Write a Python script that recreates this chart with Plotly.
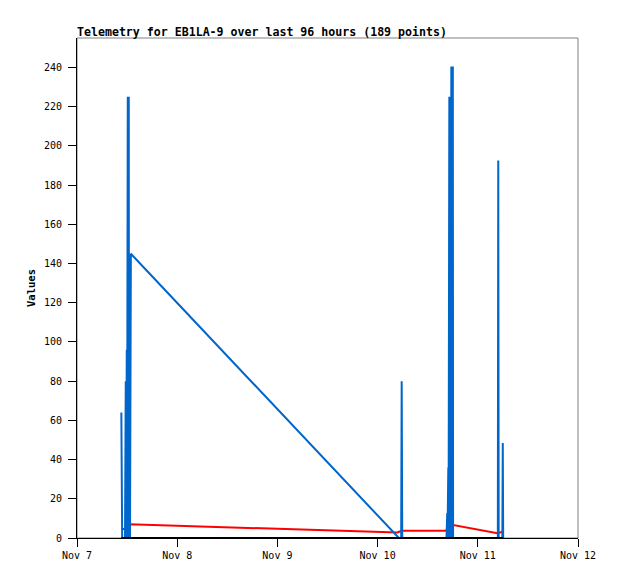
import pandas as pd
import plotly.graph_objects as go

# --------------------------------------------------
# DATA (hours after Nov 7 00:00)
# --------------------------------------------------

start = pd.Timestamp("2024-11-07 00:00")

blue_hours = [
    10.62, 10.72, 10.82,
    11.50, 11.56, 11.62, 11.68, 11.74, 11.80, 11.86, 11.92, 11.98,
    12.04, 12.10, 12.16, 12.22, 12.28, 12.34, 12.40, 12.46,
    12.52, 12.58, 12.64, 12.70, 12.76, 12.82, 12.90,
    77.10, 77.65, 77.77, 77.90,
    88.50, 88.56, 88.62, 88.68, 88.74, 88.82, 88.88, 88.94, 89.00,
    89.06, 89.12, 89.18, 89.24, 89.30, 89.36, 89.42, 89.48, 89.54, 89.60,
    89.66, 89.72, 89.78, 89.84, 89.90, 89.96, 90.02, 90.08,
    100.80, 100.90, 101.00, 101.88, 101.98, 102.08
]
blue_values = [
    64, 32, 0,
    0, 80, 0, 80, 0, 96, 0, 96, 0,
    225, 0, 225, 0, 225, 0, 225, 0,
    145, 0, 145, 0, 145, 0, 145,
    0, 0, 80, 0,
    0, 12.7, 0, 12.7, 0, 36, 0, 36, 0,
    225, 0, 225, 0, 225, 0, 225, 0, 225, 0,
    240.5, 0, 240.5, 0, 240.5, 0, 240.5, 0,
    0, 192.5, 0, 0, 48.5, 0
]

red_hours = [10.62, 11.60, 12.53, 76.80, 77.70, 88.40, 89.20, 100.70, 101.95]
red_values = [4.6, 4.6, 7.0, 2.8, 3.7, 3.7, 7.0, 2.4, 3.2]

black_hours = [10.62, 102.08]
black_values = [0, 0]

tick_days = ["2024-11-07", "2024-11-08", "2024-11-09",
             "2024-11-10", "2024-11-11", "2024-11-12"]
tick_labels = ["Nov 7", "Nov 8", "Nov 9", "Nov 10", "Nov 11", "Nov 12"]
y_ticks = list(range(0, 241, 20))


def to_time(hours):
    return [start + pd.Timedelta(hours=h) for h in hours]


# --------------------------------------------------
# FIGURE
# --------------------------------------------------

fig = go.Figure()

fig.add_trace(
    go.Scatter(
        x=to_time(red_hours),
        y=red_values,
        mode="lines",
        line=dict(color="#ff0000", width=2)
    )
)

fig.add_trace(
    go.Scatter(
        x=to_time(blue_hours),
        y=blue_values,
        mode="lines",
        line=dict(color="#0066cc", width=2)
    )
)

fig.add_trace(
    go.Scatter(
        x=to_time(black_hours),
        y=black_values,
        mode="lines",
        line=dict(color="#000000", width=2)
    )
)

mono = "DejaVu Sans Mono"

# page body adds an 8px offset, margins compensate for it
fig.update_layout(
    width=618,
    height=579,
    margin=dict(l=69, r=48, t=30, b=49),
    paper_bgcolor="white",
    plot_bgcolor="white",
    showlegend=False,
    title=dict(
        text="<b>Telemetry for EB1LA-9 over last 96 hours (189 points)</b>",
        font=dict(family=mono, size=11.6, color="black"),
        xref="paper",
        yref="paper",
        x=0,
        y=1,
        xanchor="left",
        yanchor="bottom",
        pad=dict(b=2)
    ),
    shapes=[
        dict(
            type="rect",
            xref="paper",
            yref="paper",
            x0=0, x1=1, y0=0, y1=1,
            line=dict(color="#808080", width=1),
            layer="below"
        )
    ]
)

fig.update_xaxes(
    range=["2024-11-07", "2024-11-12"],
    tickvals=tick_days,
    ticktext=tick_labels,
    ticks="outside",
    ticklen=8,
    tickcolor="black",
    showgrid=False,
    zeroline=False,
    showline=True,
    linecolor="black",
    linewidth=1,
    tickfont=dict(family=mono, size=10, color="black")
)

fig.update_yaxes(
    range=[0, 255],
    tickvals=y_ticks,
    ticks="outside",
    ticklen=8,
    tickcolor="black",
    ticklabelstandoff=4,
    showgrid=False,
    zeroline=False,
    showline=True,
    linecolor="black",
    linewidth=1,
    tickfont=dict(family=mono, size=10, color="black"),
    title=dict(
        text="<b>Values</b>",
        font=dict(family=mono, size=10.5, color="black"),
        standoff=6
    )
)

fig.write_html("out.html")
